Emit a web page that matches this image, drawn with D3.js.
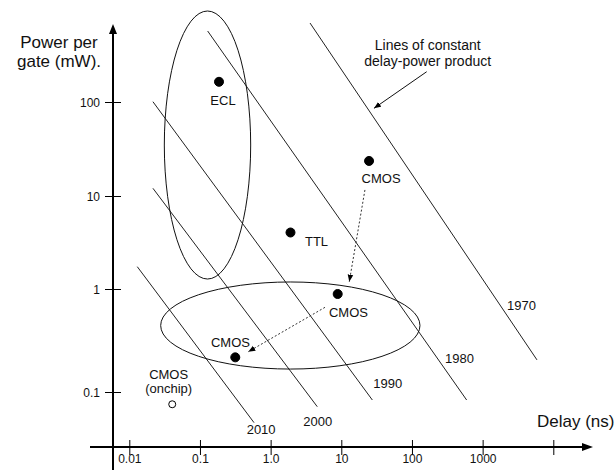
<!DOCTYPE html>
<html>
<head>
<meta charset="utf-8">
<script src="https://cdn.jsdelivr.net/npm/d3@7"></script>
<style>
  body { margin: 0; background: #fff; }
  svg text { font-family: "Liberation Sans", Arial, sans-serif; fill: #111; }
</style>
</head>
<body>
<div id="chart"></div>
<script>
// tick values / labels
const delayTicks = [0.01, 0.1, 1, 10, 100, 1000, 10000];
const delayTickLabels = ["0.01", "0.1", "1.0", "10", "100", "1000", ""];
const powerTicks = [0.1, 1, 10, 100];
const powerTickLabels = ["0.1", "1", "10", "100"];

// technology points (delay ns, power mW)
const pointNames = ["ECL", "CMOS", "TTL", "CMOS", "CMOS", "CMOS"];
const pointDelay = [0.186, 24.7, 1.91, 8.89, 0.316, 0.0405];
const pointPower = [164, 23.6, 4.05, 0.894, 0.217, 0.076];
const pointFilled = [true, true, true, true, true, false];

// lines of constant delay-power product
const years = ["1970", "1980", "1990", "2000", "2010"];
const lineStart = [[3.61, 692], [0.1285, 569], [0.0216, 100.7], [0.0216, 12.08], [0.01297, 1.738]];
const lineEnd = [[5875, 0.205], [594, 0.0836], [27.5, 0.0836], [4.57, 0.072], [0.582, 0.0504]];
const yearLabelAt = [[2213, 0.625], [293, 0.19], [28.4, 0.110], [2.90, 0.0468], [0.458, 0.0391]];

// ellipses: delay range, power range
const ellipseDelay = [[0.0313, 0.522], [0.0278, 129.8]];
const ellipsePower = [[1.28, 929], [0.167, 1.19]];

// dotted migration arrows + note arrow
const migrationFrom = [[21.6, 11.6], [5.88, 0.664]];
const migrationTo = [[12.97, 1.198], [0.483, 0.246]];
const noteFrom = [161.6, 210];
const noteTo = [29.0, 85.7];

const W = 616, H = 470;
const axisX = 113, axisY = 447;

const x = d3.scaleLog().domain([0.01, 10000]).range([129.3, 553.3]);
// hand drawn axis: decades are not evenly spaced
const y = d3.scaleLog().domain([0.1, 1, 10, 100]).range([392, 289, 196, 102]);

const svg = d3.select("#chart").append("svg")
    .attr("width", W).attr("height", H);

const defs = svg.append("defs");
defs.append("marker").attr("id", "head")
    .attr("viewBox", "0 0 10 10").attr("refX", 10).attr("refY", 5)
    .attr("markerWidth", 7).attr("markerHeight", 7)
    .attr("markerUnits", "userSpaceOnUse")
    .attr("orient", "auto")
  .append("path").attr("d", "M0,1L10,5L0,9Z").attr("fill", "#000");

// axes lines with arrows
svg.append("line")
    .attr("x1", axisX).attr("x2", axisX).attr("y1", H).attr("y2", 33)
    .attr("stroke", "#000").attr("stroke-width", 2);
svg.append("path").attr("d", `M${axisX - 4},34L${axisX},24L${axisX + 4},34Z`).attr("fill", "#000");
svg.append("line")
    .attr("x1", 90).attr("x2", 583).attr("y1", axisY).attr("y2", axisY)
    .attr("stroke", "#000").attr("stroke-width", 2);
svg.append("path").attr("d", `M582,${axisY - 4}L593,${axisY}L582,${axisY + 4}Z`).attr("fill", "#000");

const xAxis = svg.append("g")
    .attr("transform", `translate(0,${axisY})`)
    .call(d3.axisBottom(x).tickValues(delayTicks).tickFormat((d, i) => delayTickLabels[i]).tickSizeOuter(0));
xAxis.select(".domain").remove();
xAxis.selectAll(".tick line").attr("y1", -7).attr("y2", 8).attr("stroke", "#000");
xAxis.selectAll(".tick text").attr("y", 16).attr("dy", 0)
    .style("font-size", "12px").attr("fill", "#111");

const yAxis = svg.append("g")
    .attr("transform", `translate(${axisX},0)`)
    .call(d3.axisLeft(y).tickValues(powerTicks).tickFormat((d, i) => powerTickLabels[i]).tickSizeOuter(0));
yAxis.select(".domain").remove();
yAxis.selectAll(".tick line").attr("x1", -8).attr("x2", 8).attr("stroke", "#000");
yAxis.selectAll(".tick text").attr("x", -13).attr("dy", "0.35em")
    .style("font-size", "12px").attr("fill", "#111");

// axis titles
svg.append("text").attr("text-anchor", "middle").style("font-size", "17px")
    .attr("x", 59).attr("y", 48).text("Power per");
svg.append("text").attr("text-anchor", "middle").style("font-size", "17px")
    .attr("x", 59).attr("y", 67).text("gate (mW).");
svg.append("text").attr("x", 537).attr("y", 427).style("font-size", "17px").text("Delay (ns)");

// constant delay-power lines
svg.append("g").selectAll("line")
    .data(years.map((yr, i) => ({ yr, s: lineStart[i], e: lineEnd[i] })))
    .join("line")
    .attr("x1", d => x(d.s[0])).attr("y1", d => y(d.s[1]))
    .attr("x2", d => x(d.e[0])).attr("y2", d => y(d.e[1]))
    .attr("stroke", "#222").attr("stroke-width", 1);

svg.append("g").selectAll("text")
    .data(years.map((yr, i) => ({ yr, at: yearLabelAt[i] })))
    .join("text")
    .attr("x", d => x(d.at[0])).attr("y", d => y(d.at[1]))
    .style("font-size", "13px")
    .text(d => d.yr);

// ellipses
svg.append("g").selectAll("ellipse")
    .data(ellipseDelay.map((dr, i) => ({ dr, pr: ellipsePower[i] })))
    .join("ellipse")
    .attr("cx", d => (x(d.dr[0]) + x(d.dr[1])) / 2)
    .attr("cy", d => (y(d.pr[0]) + y(d.pr[1])) / 2)
    .attr("rx", d => Math.abs(x(d.dr[1]) - x(d.dr[0])) / 2)
    .attr("ry", d => Math.abs(y(d.pr[1]) - y(d.pr[0])) / 2)
    .attr("fill", "none").attr("stroke", "#111").attr("stroke-width", 1);

// dotted arrows
svg.append("g").selectAll("line")
    .data(migrationFrom.map((f, i) => ({ f, t: migrationTo[i] })))
    .join("line")
    .attr("x1", d => x(d.f[0])).attr("y1", d => y(d.f[1]))
    .attr("x2", d => x(d.t[0])).attr("y2", d => y(d.t[1]))
    .attr("stroke", "#333").attr("stroke-width", 1)
    .attr("stroke-dasharray", "2,2")
    .attr("marker-end", "url(#head)");

// note arrow
svg.append("line")
    .attr("x1", x(noteFrom[0])).attr("y1", y(noteFrom[1]))
    .attr("x2", x(noteTo[0])).attr("y2", y(noteTo[1]))
    .attr("stroke", "#111").attr("stroke-width", 1)
    .attr("marker-end", "url(#head)");
const note = svg.append("text").attr("text-anchor", "middle").style("font-size", "14px");
note.append("tspan").attr("x", x(noteFrom[0]) + 1).attr("y", y(noteFrom[1]) - 22).text("Lines of constant");
note.append("tspan").attr("x", x(noteFrom[0]) + 1).attr("y", y(noteFrom[1]) - 6).text("delay-power product");

// points
const pts = pointNames.map((name, i) => ({ name, d: pointDelay[i], p: pointPower[i], filled: pointFilled[i] }));
svg.append("g").selectAll("circle")
    .data(pts)
    .join("circle")
    .attr("cx", d => x(d.d)).attr("cy", d => y(d.p))
    .attr("r", d => d.filled ? 4.5 : 3.5)
    .attr("fill", d => d.filled ? "#000" : "#fff")
    .attr("stroke", "#000").attr("stroke-width", 1);

// point label offsets (px from the dot)
const labelOffsets = [
  { dx: 4, dy: 23, anchor: "middle" },
  { dx: 12, dy: 22, anchor: "middle" },
  { dx: 14.5, dy: 13.5, anchor: "start" },
  { dx: -8.7, dy: 22.7, anchor: "start" },
  { dx: -24.3, dy: -10, anchor: "start" },
  { dx: -3.6, dy: -25, anchor: "middle" }
];
svg.append("g").selectAll("text")
    .data(pts)
    .join("text")
    .attr("x", (d, i) => x(d.d) + labelOffsets[i].dx)
    .attr("y", (d, i) => y(d.p) + labelOffsets[i].dy)
    .attr("text-anchor", (d, i) => labelOffsets[i].anchor)
    .style("font-size", "13px")
    .text(d => d.name);

// second line under on-chip CMOS
svg.append("text")
    .attr("x", x(pointDelay[5]) - 3.6).attr("y", y(pointPower[5]) - 11)
    .attr("text-anchor", "middle").style("font-size", "13px")
    .text("(onchip)");
</script>
</body>
</html>
